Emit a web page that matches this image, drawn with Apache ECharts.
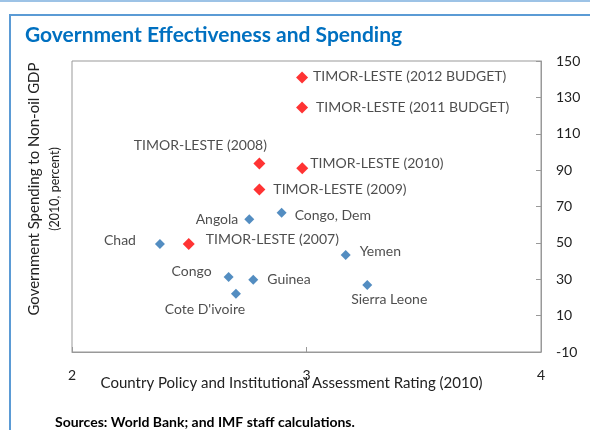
<!DOCTYPE html>
<html>
<head>
<meta charset="utf-8">
<script src="https://cdn.jsdelivr.net/npm/echarts@6/dist/echarts.min.js"></script>
<style>
html, body { margin: 0; padding: 0; background: #fff; }
#chart { width: 590px; height: 430px; }
</style>
</head>
<body>
<div id="chart"></div>
<script>
// 其他国家（蓝色）
var countryNames = ["Chad", "Angola", "Congo, Dem", "Yemen", "Congo", "Guinea", "Cote D'ivoire", "Sierra Leone"];
var countryCpia = [2.375, 2.756, 2.894, 3.167, 2.668, 2.773, 2.699, 3.259];
var countrySpending = [49.4, 63.0, 66.6, 43.4, 31.3, 29.7, 22.0, 26.8];

// 东帝汶（红色）
var timorNames = ["TIMOR-LESTE (2007)", "TIMOR-LESTE (2008)", "TIMOR-LESTE (2009)", "TIMOR-LESTE (2010)", "TIMOR-LESTE (2011 BUDGET)", "TIMOR-LESTE (2012 BUDGET)"];
var timorCpia = [2.498, 2.799, 2.799, 2.982, 2.981, 2.981];
var timorSpending = [49.4, 93.7, 79.4, 91.0, 124.4, 140.9];

// 坐标轴刻度
var xMin = 2, xMax = 4, xStep = 1;
var yMin = -10, yMax = 150, yStep = 20;

// 标签位置（只管样式）
var countryLabelPos = [
  { position: "left", offset: [-14, -3] },
  { position: "left", offset: [-1, 0] },
  { position: "right", offset: [3, 3] },
  { position: "right", offset: [4, -3] },
  { position: "left", offset: [-7, -5] },
  { position: "right", offset: [4, 0] },
  { position: "bottom", offset: [-31, -1] },
  { position: "bottom", offset: [22, -3] }
];
var timorLabelPos = [
  { position: "right", offset: [6, -4] },
  { position: "top", offset: [-59, 0] },
  { position: "right", offset: [3, 0] },
  { position: "right", offset: [-3, -5] },
  { position: "right", offset: [3, 0] },
  { position: "right", offset: [0, -1] }
];

var FONT = "Lato";

function buildData(names, xs, ys, pos) {
  return names.map(function (n, i) {
    return {
      name: n,
      value: [xs[i], ys[i]],
      label: { position: pos[i].position, offset: pos[i].offset }
    };
  });
}

var myChart = echarts.init(document.getElementById("chart"));

var option = {
  animation: false,
  backgroundColor: "#fff",
  textStyle: { fontFamily: FONT },
  title: {
    text: "Government Effectiveness and Spending",
    left: 20,
    top: 20,
    textStyle: { fontFamily: FONT, fontWeight: "bold", fontSize: 21, color: "#0070c0" }
  },
  grid: {
    left: 72,
    right: 49,
    top: 61,
    bottom: 78,
    show: true,
    borderColor: "#999",
    borderWidth: 1
  },
  xAxis: {
    type: "value",
    min: xMin,
    max: xMax,
    interval: xStep,
    name: "Country Policy and Institutional Assessment Rating (2010)",
    nameLocation: "middle",
    nameGap: 24,
    nameMoveOverlap: false,
    nameTextStyle: { fontFamily: FONT, fontSize: 15, color: "#222", padding: [0, 30, 0, 0] },
    axisLine: { show: true, onZero: false, lineStyle: { color: "#999" } },
    axisTick: { show: true, inside: true, length: 5, lineStyle: { color: "#999" } },
    axisLabel: { margin: 16, fontSize: 14, color: "#222", fontFamily: FONT },
    splitLine: { show: false }
  },
  yAxis: {
    type: "value",
    position: "right",
    min: yMin,
    max: yMax,
    interval: yStep,
    axisLine: { show: true, onZero: false, lineStyle: { color: "#999" } },
    axisTick: { show: true, inside: true, length: 5, lineStyle: { color: "#999" } },
    axisLabel: { margin: 15, fontSize: 14, color: "#222", fontFamily: FONT },
    splitLine: { show: false }
  },
  graphic: [
    { type: "rect", shape: { x: 0, y: 0, width: 590, height: 2 }, style: { fill: "#9dc3e6" } },
    { type: "rect", shape: { x: 10, y: 14, width: 580, height: 2 }, style: { fill: "#5b9bd5" } },
    { type: "rect", shape: { x: 9, y: 14, width: 2, height: 416 }, style: { fill: "#5b9bd5" } },
    {
      type: "text", x: 34, y: 189, rotation: Math.PI / 2,
      style: { text: "Government Spending to Non-oil GDP", fontFamily: FONT, fontSize: 15, fill: "#222", textAlign: "center", textVerticalAlign: "middle" }
    },
    {
      type: "text", x: 55, y: 189, rotation: Math.PI / 2,
      style: { text: "(2010, percent)", fontFamily: FONT, fontSize: 12.5, fill: "#222", textAlign: "center", textVerticalAlign: "middle" }
    },
    {
      type: "text", left: 55, top: 415,
      style: { text: "Sources: World Bank; and IMF staff calculations.", fontFamily: FONT, fontSize: 14, fontWeight: "bold", fill: "#000" }
    }
  ],
  series: [
    {
      name: "Countries",
      type: "scatter",
      symbol: "diamond",
      symbolSize: 10,
      itemStyle: { color: "#2871b2" },
      label: {
        show: true,
        formatter: "{b}",
        fontFamily: FONT,
        fontSize: 14,
        color: "#222"
      },
      data: buildData(countryNames, countryCpia, countrySpending, countryLabelPos)
    },
    {
      name: "Timor-Leste",
      type: "scatter",
      symbol: "diamond",
      symbolSize: 12,
      itemStyle: { color: "#ff0000" },
      label: {
        show: true,
        formatter: "{b}",
        fontFamily: FONT,
        fontSize: 14,
        color: "#222"
      },
      data: buildData(timorNames, timorCpia, timorSpending, timorLabelPos)
    }
  ]
};

option && myChart.setOption(option);
</script>
</body>
</html>
